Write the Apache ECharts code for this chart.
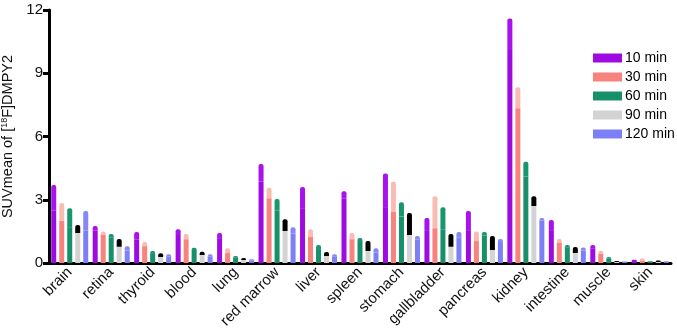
<!DOCTYPE html>
<html>
<head>
<meta charset="utf-8">
<script src="https://cdn.jsdelivr.net/npm/echarts@6/dist/echarts.min.js"></script>
<style>
  html, body { margin: 0; padding: 0; background: #fff; }
  #main { width: 677px; height: 328px; }
</style>
</head>
<body>
<div id="main"></div>
<script>
  // organs on the x axis
  var organs = ['brain', 'retina', 'thyroid', 'blood', 'lung', 'red marrow', 'liver', 'spleen',
    'stomach', 'gallbladder', 'pancreas', 'kidney', 'intestine', 'muscle', 'skin'];
  var timeNames = ['10 min', '30 min', '60 min', '90 min', '120 min'];
  var yTicks = [0, 3, 6, 9, 12];

  // mean SUV per time point
  var mean10 = [2.5, 1.55, 1.1, 1.33, 1.18, 3.85, 2.6, 3.07, 2.65, 1.56, 1.56, 10.1, 1.56, 0.7, 0.1];
  var mean30 = [2.0, 1.33, 0.8, 1.13, 0.47, 3.07, 1.23, 1.13, 2.42, 1.65, 1.04, 7.34, 0.95, 0.45, 0.12];
  var mean60 = [1.7, 1.2, 0.47, 0.62, 0.25, 2.5, 0.62, 1.0, 2.2, 1.6, 1.3, 4.1, 0.75, 0.2, 0.06];
  var mean90 = [1.42, 0.77, 0.28, 0.38, 0.14, 1.52, 0.33, 0.57, 1.33, 0.77, 0.62, 2.7, 0.47, 0.05, 0.05];
  var mean120 = [1.55, 0.6, 0.3, 0.3, 0.12, 1.4, 0.3, 0.5, 1.1, 1.2, 0.95, 2.0, 0.6, 0.05, 0.05];

  // top of the error bar (mean + sd)
  var top10 = [3.7, 1.75, 1.47, 1.6, 1.42, 4.7, 3.6, 3.4, 4.25, 2.13, 2.47, 11.6, 2.04, 0.85, 0.15];
  var top30 = [2.85, 1.5, 1.0, 1.37, 0.7, 3.57, 1.6, 1.42, 3.85, 3.17, 1.5, 8.34, 1.14, 0.58, 0.22];
  var top60 = [2.6, 1.37, 0.57, 0.72, 0.33, 3.03, 0.85, 1.18, 2.88, 2.65, 1.47, 4.8, 0.85, 0.28, 0.1];
  var top90 = [1.8, 1.14, 0.46, 0.53, 0.24, 2.08, 0.52, 1.04, 2.37, 1.37, 1.28, 3.17, 0.76, 0.1, 0.12];
  var top120 = [2.47, 0.8, 0.42, 0.42, 0.18, 1.7, 0.42, 0.7, 1.28, 1.47, 1.14, 2.13, 0.74, 0.07, 0.08];

  var means = [mean10, mean30, mean60, mean90, mean120];
  var tops = [top10, top30, top60, top90, top120];
  var barColors = ['#9e0ae2', '#f7837c', '#17906a', '#d3d3d3', '#7d7ff6'];
  var errColors = ['#a812ee', '#f9bcb5', '#18966d', '#000000', '#8688f8'];

  var myChart = echarts.init(document.getElementById('main'));

  var series = [];
  for (var i = 0; i < timeNames.length; i++) {
    series.push({
      name: timeNames[i],
      type: 'bar',
      stack: 's' + i,
      barWidth: 5,
      barGap: '60%',
      itemStyle: { color: barColors[i] },
      data: means[i]
    });
    var errPart = [];
    for (var j = 0; j < organs.length; j++) {
      errPart.push(Math.max(0, +(tops[i][j] - means[i][j]).toFixed(3)));
    }
    series.push({
      name: 'err' + i,
      type: 'bar',
      stack: 's' + i,
      barWidth: 5,
      barGap: '60%',
      itemStyle: { color: errColors[i], borderRadius: [2, 2, 0, 0] },
      data: errPart
    });
  }

  var font = 'Liberation Sans, Arial, sans-serif';
  var option = {
    animation: false,
    textStyle: { fontFamily: font },
    grid: { left: 49, right: 6, top: 10, bottom: 65, outerBoundsMode: 'none' },
    legend: {
      data: timeNames,
      orient: 'vertical',
      left: 588,
      top: 46,
      itemWidth: 29,
      itemHeight: 9,
      itemGap: 5,
      icon: 'rect',
      textStyle: { fontSize: 14, color: '#000', padding: [0, 0, 0, -2] }
    },
    xAxis: {
      type: 'category',
      data: organs,
      axisLine: { lineStyle: { color: '#000', width: 3 } },
      axisTick: { alignWithLabel: true, length: 6, lineStyle: { color: '#000', width: 3 } },
      axisLabel: { rotate: 45, fontSize: 15, color: '#111', margin: 7, interval: 0 }
    },
    yAxis: {
      type: 'value',
      min: yTicks[0],
      max: yTicks[yTicks.length - 1],
      interval: 3,
      name: '{a|SUVmean of [}{s|18}{a|F]DMPY2}',
      nameLocation: 'middle',
      nameGap: 32,
      nameTextStyle: {
        rich: {
          a: { fontSize: 14.5, color: '#111', fontFamily: font },
          s: { fontSize: 9, color: '#111', verticalAlign: 'top', padding: [0, 0, 6, 0], fontFamily: font }
        }
      },
      splitLine: { show: false },
      axisLine: { show: true, lineStyle: { color: '#000', width: 3 } },
      axisTick: { show: true, length: 6, lineStyle: { color: '#000', width: 3 } },
      axisLabel: { fontSize: 15, color: '#111', margin: 6 }
    },
    series: series
  };
  myChart.setOption(option);
</script>
</body>
</html>
